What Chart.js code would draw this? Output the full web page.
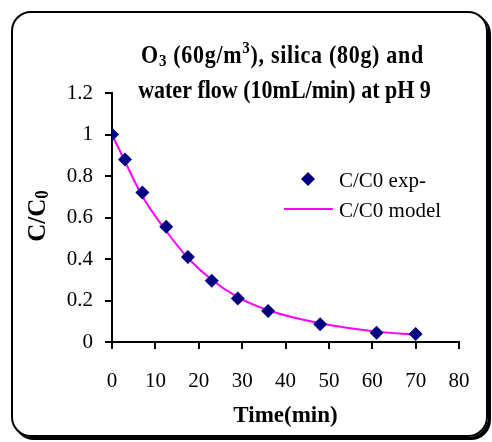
<!DOCTYPE html>
<html>
<head>
<meta charset="utf-8">
<script src="https://cdn.jsdelivr.net/npm/chart.js@4/dist/chart.umd.min.js"></script>
<style>
  html, body { margin: 0; padding: 0; background: #fff; }
  #wrap { position: relative; width: 492px; height: 442px; overflow: hidden; }
  #frame {
    position: absolute; left: 11px; top: 11px; width: 473px; height: 422px;
    border: 2px solid #000; border-radius: 20px; box-shadow: 3px 3px 0 #000;
  }
  #chart { position: absolute; left: 0; top: 0; }
</style>
</head>
<body>
<div id="wrap">
  <div id="frame"></div>
  <canvas id="chart" width="492" height="442"></canvas>
</div>
<script>
// 时间 (min)
const timeMin = [0, 3, 7, 12.5, 17.5, 23, 29, 36, 48, 61, 70];
// 实验值 C/C0
const expValues = [1, 0.88, 0.72, 0.555, 0.41, 0.295, 0.21, 0.15, 0.085, 0.045, 0.038];
// 模型值 C/C0
const modelValues = [1, 0.87, 0.703, 0.535, 0.405, 0.3, 0.216, 0.153, 0.09, 0.05, 0.035];
const xTickRange = { min: 0, max: 80, step: 10 };
const yTickRange = { min: 0, max: 1.2, step: 0.2 };

const serif = "'Liberation Serif', 'Times New Roman', serif";

// 画带上下标的文字（可纵向拉伸、加字距）
const drawRich = (ctx, parts, cx, baseY, size, stretch = 1, spacing = 0) => {
  const fontFor = p => `bold ${p.sub || p.sup ? Math.round(size * 0.66) : size}px ${serif}`;
  ctx.save();
  ctx.letterSpacing = `${spacing}px`;
  let total = 0;
  parts.forEach(p => { ctx.font = fontFor(p); total += ctx.measureText(p.t).width; });
  ctx.translate(cx - total / 2, baseY);
  ctx.scale(1, stretch);
  ctx.textBaseline = 'alphabetic';
  ctx.textAlign = 'left';
  let x = 0;
  parts.forEach(p => {
    ctx.font = fontFor(p);
    const dy = p.sub ? size * 0.12 : p.sup ? -size * 0.4 : 0;
    ctx.fillText(p.t, x, dy);
    x += ctx.measureText(p.t).width;
  });
  ctx.restore();
};

// 标题、轴标题和图例
const annotations = {
  id: 'annotations',
  afterDraw(chart) {
    const { ctx, chartArea } = chart;
    const cx = (chartArea.left + chartArea.right) / 2;
    ctx.save();
    ctx.fillStyle = '#000';
    drawRich(ctx, [{ t: 'O' }, { t: '3', sub: true }, { t: ' (60g/m' }, { t: '3', sup: true }, { t: '), silica (80g) and' }], cx - 3, 63, 22, 1.12, 0.7);
    drawRich(ctx, [{ t: 'water flow (10mL/min) at pH 9' }], cx - 1, 98, 22, 1.12);
    drawRich(ctx, [{ t: 'Time(min)' }], cx, 422, 23);

    ctx.save();
    ctx.translate(45, 216);
    ctx.rotate(-Math.PI / 2);
    drawRich(ctx, [{ t: 'C/C' }, { t: '0', sub: true }], 0, 0, 25, 1.05);
    ctx.restore();

    // 图例
    const [expSet, modelSet] = chart.data.datasets;
    const r = expSet.pointRadius;
    ctx.fillStyle = expSet.pointBackgroundColor;
    ctx.beginPath();
    ctx.moveTo(308, 179 - r);
    ctx.lineTo(308 + r, 179);
    ctx.lineTo(308, 179 + r);
    ctx.lineTo(308 - r, 179);
    ctx.closePath();
    ctx.fill();

    ctx.font = `21px ${serif}`;
    ctx.textBaseline = 'alphabetic';
    ctx.textAlign = 'left';
    ctx.fillStyle = '#000';
    ctx.fillText(expSet.label, 339, 187);

    ctx.strokeStyle = modelSet.borderColor;
    ctx.lineWidth = 2;
    ctx.beginPath();
    ctx.moveTo(284, 209);
    ctx.lineTo(333, 209);
    ctx.stroke();
    ctx.fillText(modelSet.label, 339, 216.5);
    ctx.restore();
  }
};

const toPoints = ys => timeMin.map((t, i) => ({ x: t, y: ys[i] }));

new Chart(document.getElementById('chart'), {
  type: 'scatter',
  data: {
    datasets: [
      {
        label: 'C/C0 exp-',
        data: toPoints(expValues),
        pointStyle: 'rectRot',
        pointRadius: 7,
        pointBackgroundColor: '#000080',
        pointBorderColor: '#000080',
        pointBorderWidth: 0,
        showLine: false
      },
      {
        label: 'C/C0 model',
        data: toPoints(modelValues),
        showLine: true,
        borderColor: '#ff00ff',
        borderWidth: 2,
        pointRadius: 0,
        cubicInterpolationMode: 'monotone'
      }
    ]
  },
  options: {
    responsive: false,
    animation: false,
    layout: { padding: { left: 0, top: 93, right: 33, bottom: 0 } },
    plugins: { legend: { display: false }, tooltip: { enabled: false } },
    scales: {
      x: {
        type: 'linear',
        min: xTickRange.min,
        max: xTickRange.max,
        afterFit: s => { s.height = 100; },
        ticks: { stepSize: xTickRange.step, color: '#000', padding: 20, font: { family: serif, size: 21 } },
        grid: { drawOnChartArea: false, tickLength: 7, color: '#000', lineWidth: 2 },
        border: { color: '#000', width: 2 }
      },
      y: {
        min: yTickRange.min,
        max: yTickRange.max,
        afterFit: s => { s.width = 112; },
        ticks: {
          stepSize: yTickRange.step,
          color: '#000',
          padding: 12,
          font: { family: serif, size: 21 },
          callback: v => String(Math.round(v * 10) / 10)
        },
        grid: { drawOnChartArea: false, tickLength: 7, color: '#000', lineWidth: 2 },
        border: { color: '#000', width: 2 }
      }
    }
  },
  plugins: [annotations]
});
</script>
</body>
</html>
